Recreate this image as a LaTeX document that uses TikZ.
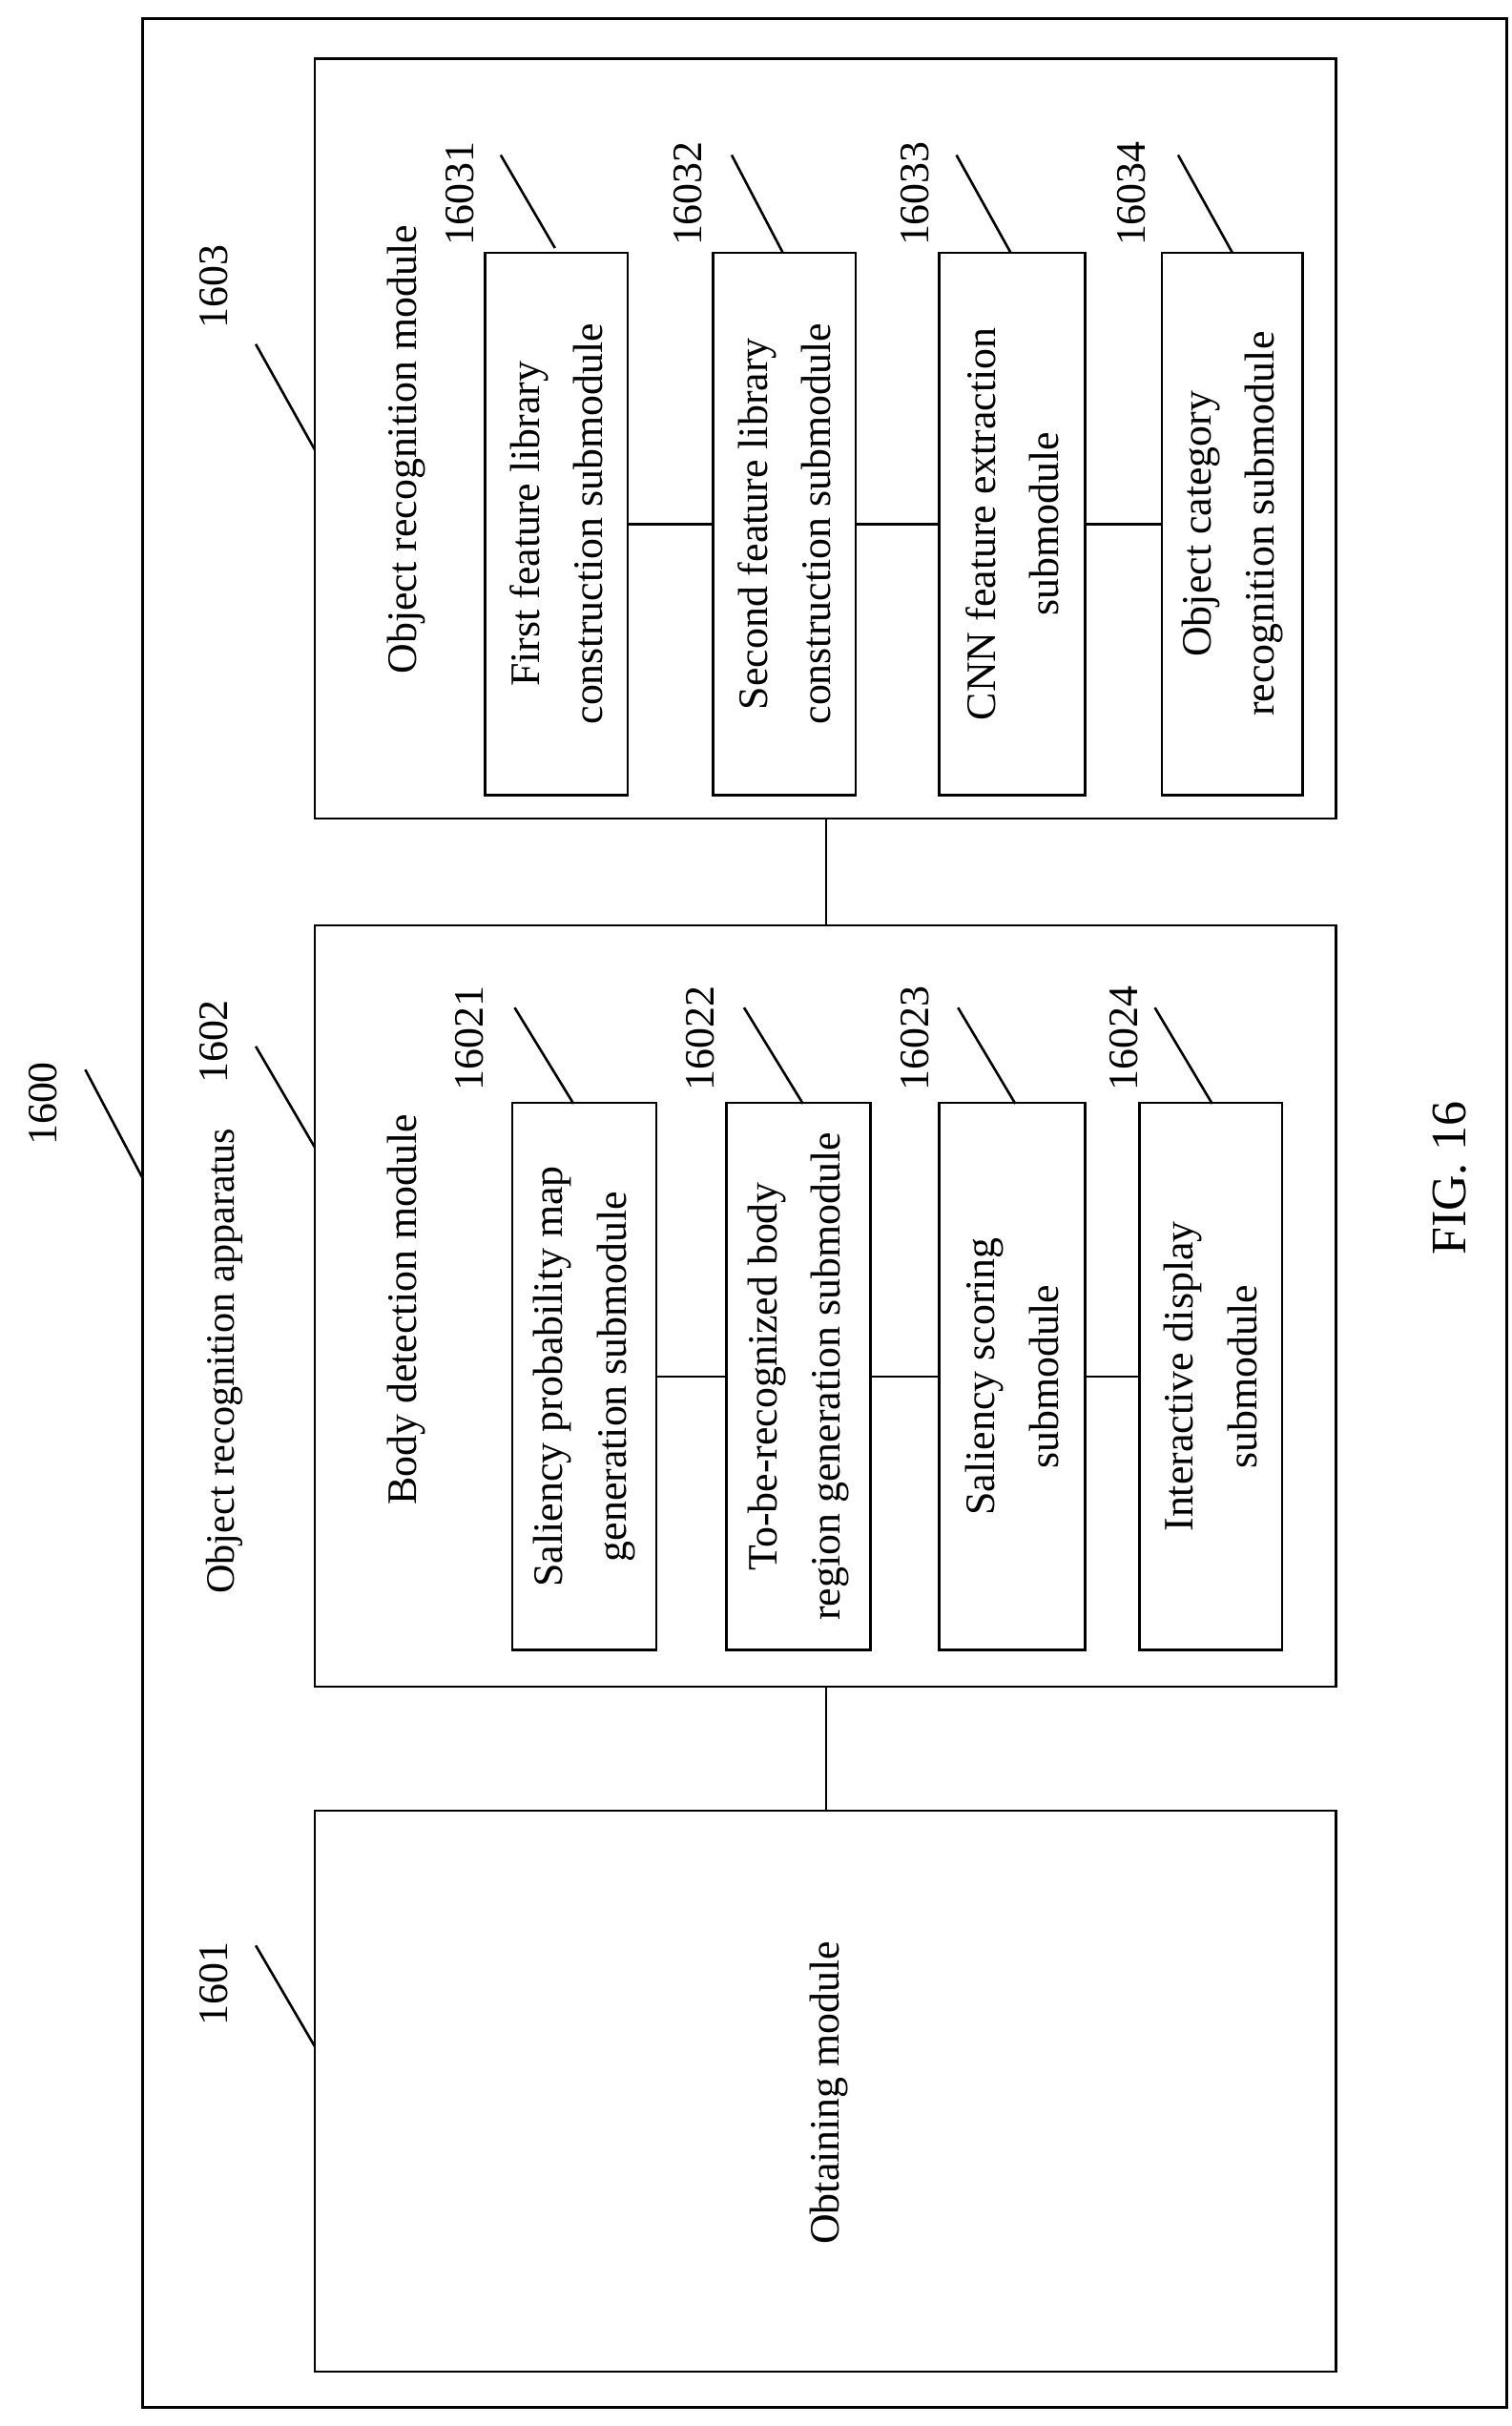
\documentclass[tikz,border=0pt]{standalone}
\usepackage{fontspec}
\setmainfont{Liberation Serif}
\usetikzlibrary{positioning}
\tikzset{
  box/.style={draw,line width=1.6pt},
  txt/.style={rotate=90,align=center,font=\fontsize{27}{41}\selectfont},
  lead/.style={line width=1.6pt}
}
\begin{document}
\begin{tikzpicture}[x=1pt,y=-1pt,line width=1.6pt]
  \useasboundingbox (0,0) rectangle (975,1565);
  % outer apparatus
  \draw[box] (92,12) rectangle (972,1553);
  \node[txt,font=\fontsize{26}{40}\selectfont] (t1600) at (145,878) {Object recognition apparatus};
  % modules
  \draw[box] (203,1168) rectangle (862,1530);
  \draw[box] (203,597) rectangle (862,1088);
  \draw[box] (203,38) rectangle (862,528);
  \node[txt] (m1601) at (535,1350) {Obtaining module};
  \node[txt] (m1602) at (262,845) {Body detection module};
  \node[txt] (m1603) at (262,290) {Object recognition module};
  \coordinate (a1) at (533,1168); \coordinate (a2) at (533,1088);
  \coordinate (b1) at (533,597); \coordinate (b2) at (533,528);
  \draw (a1) -- (a2);
  \draw (b1) -- (b2);
  % submodules of 1603
  \node[box,minimum width=92pt,minimum height=350pt,inner sep=0pt] (s1) at (359,338) {};
  \node[box,minimum width=92pt,minimum height=350pt,inner sep=0pt] (s2) at (506,338) {};
  \node[box,minimum width=94pt,minimum height=350pt,inner sep=0pt] (s3) at (653,338) {};
  \node[box,minimum width=91pt,minimum height=350pt,inner sep=0pt] (s4) at (795,338) {};
  \node[txt] at (s1) {First feature library\\construction submodule};
  \node[txt] at (s2) {Second feature library\\construction submodule};
  \node[txt] at (s3) {CNN feature extraction\\submodule};
  \node[txt] at (s4) {Object category\\recognition submodule};
  \draw (s1) -- (s2); \draw (s2) -- (s3); \draw (s3) -- (s4);
  % submodules of 1602
  \node[box,minimum width=93pt,minimum height=353pt,inner sep=0pt] (d1) at (377,888) {};
  \node[box,minimum width=93pt,minimum height=353pt,inner sep=0pt] (d2) at (515,888) {};
  \node[box,minimum width=94pt,minimum height=353pt,inner sep=0pt] (d3) at (653,888) {};
  \node[box,minimum width=92pt,minimum height=353pt,inner sep=0pt] (d4) at (781,888) {};
  \node[txt] at (d1) {Saliency probability map\\generation submodule};
  \node[txt] at (d2) {To-be-recognized body\\region generation submodule};
  \node[txt] at (d3) {Saliency scoring\\submodule};
  \node[txt] at (d4) {Interactive display\\submodule};
  \draw (d1) -- (d2); \draw (d2) -- (d3); \draw (d3) -- (d4);
  % reference numerals
  \foreach \t/\x/\y/\ax/\ay/\bx/\by in {
      1600/28/712/55/690/92/760,
      1601/138/1280/165/1255/203/1320,
      1602/138/672/165/675/203/740,
      1603/138/185/165/222/203/290,
      16031/297/125/323/100/358/160,
      16032/444/125/472/100/505/163,
      16033/590/125/617/100/652/163,
      16034/730/125/760/100/795/163,
      16021/303/670/332/650/370/712,
      16022/452/670/480/650/518/712,
      16023/590/670/618/650/655/712,
      16024/725/670/745/650/782/712}{
    \node[txt] (n\t) at (\x,\y) {\t};
    \coordinate (p\t) at (\ax,\ay);
    \coordinate (q\t) at (\bx,\by);
    \draw[lead] (p\t) -- (q\t);
  }
  \node[txt,font=\fontsize{32}{38}\selectfont] (fig) at (935,760) {FIG. 16};
\end{tikzpicture}
\end{document}
